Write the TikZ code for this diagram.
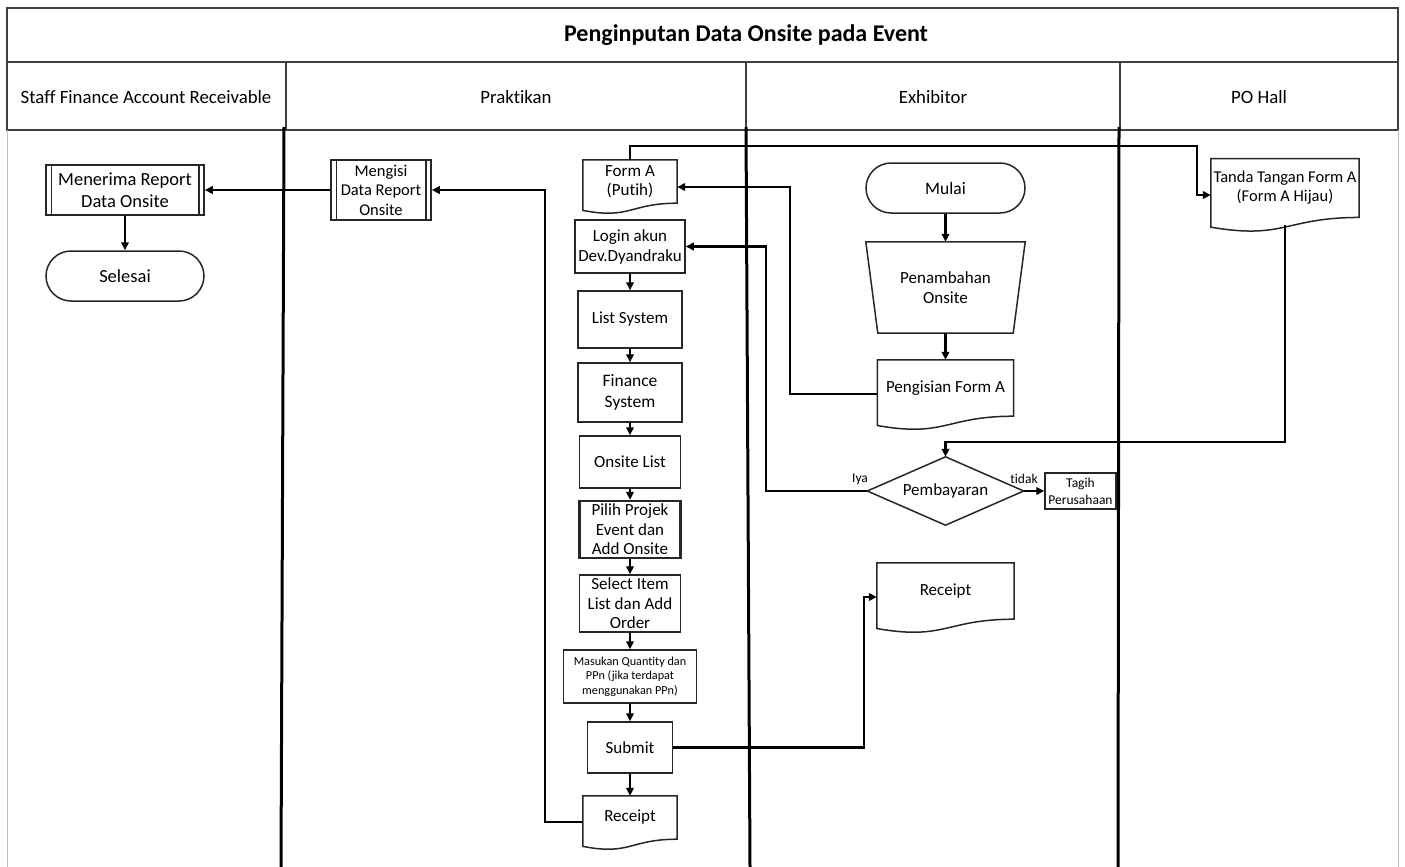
\documentclass[tikz,border=0pt]{standalone}
\usepackage{fontspec}
\setmainfont{Carlito}[Ligatures=NoCommon]
\usetikzlibrary{calc,arrows.meta}

% document symbol: straight top and sides, wavy bottom edge
\newcommand\docframe[1]{%
  \draw[shapeline] let \p1=(#1.north west), \p2=(#1.south east), \n1={\y1-\y2} in
    (\x1,\y1) -- (\x2,\y1) -- (\x2,\y2)
    .. controls ({(\x1+\x2)/2},\y2) and ({(\x1+\x2)/2},{\y2-0.38*\n1}) ..
    (\x1,{\y2-0.165*\n1}) -- cycle;}

\tikzset{
  every node/.style={inner sep=0pt, align=center, font=\fontsize{17}{20}\selectfont},
  shapeline/.style={draw=black!85, line width=1.5pt},
  box/.style={shapeline, fill=white},
  term/.style={box, rounded corners=25pt},
  textonly/.style={draw=none},
  conn/.style={draw=black, line width=2.2pt},
  arr/.style={conn, -{Triangle[length=8pt,width=7.5pt]}},
  lane/.style={draw=black, line width=3pt},
  hdrline/.style={draw=black!75, line width=1.8pt},
  faint/.style={draw=black!25, line width=1pt},
  hdr/.style={font=\fontsize{18.8}{22}\selectfont},
  small/.style={font=\fontsize{12.2}{14.5}\selectfont},
}

\begin{document}
\begin{tikzpicture}[x=1pt,y=-1pt]
\useasboundingbox (0,0) rectangle (1405,867);

% header rows
\draw[hdrline] (7,8) rectangle (1398,130);
\draw[hdrline] (7,62) -- (1398,62);
\draw[hdrline] (286,62) -- (286,130);
\draw[hdrline] (746,62) -- (746,130);
\draw[hdrline] (1120,62) -- (1120,130);
\node[font=\bfseries\fontsize{24}{28}\selectfont] (title) at (746,35) {Penginputan Data Onsite pada Event};
\node[hdr] (hstaff) at (146,97) {Staff Finance Account Receivable};
\node[hdr] (hprak) at (516,97) {Praktikan};
\node[hdr] (hexh) at (933,97) {Exhibitor};
\node[hdr] (hpo) at (1259,97) {PO Hall};

% lanes
\draw[faint] (7,130) -- (7,867);
\draw[faint] (1398,130) -- (1398,867);
\draw[lane] (284,127) -- (281,867);
\draw[lane] (746,127) -- (750,867);
\draw[lane] (1119,127) -- (1118,867);

% Staff Finance lane
\node[box, minimum width=158, minimum height=50, font=\fontsize{18.5}{22}\selectfont] (menerima) at (125,190) {Menerima Report\\Data Onsite};
\draw[shapeline] ([xshift=6pt]menerima.north west) -- ([xshift=6pt]menerima.south west);
\draw[shapeline] ([xshift=-6pt]menerima.north east) -- ([xshift=-6pt]menerima.south east);
\node[term, minimum width=158, minimum height=50, font=\fontsize{18.5}{22}\selectfont] (selesai) at (125,276) {Selesai};

% Praktikan lane
\node[box, minimum width=100, minimum height=60, font=\fontsize{16.5}{19.5}\selectfont] (mengisi) at (381,190) {Mengisi\\Data Report\\Onsite};
\draw[shapeline] ([xshift=6pt]mengisi.north west) -- ([xshift=6pt]mengisi.south west);
\draw[shapeline] ([xshift=-6pt]mengisi.north east) -- ([xshift=-6pt]mengisi.south east);

\node[textonly, minimum width=94, minimum height=43, font=\fontsize{17}{19}\selectfont] (formA) at (630,181.5) {Form A\\(Putih)};
\docframe{formA}
\node[box, minimum width=110, minimum height=53] (login) at (630,246.5) {Login akun\\Dev.Dyandraku};
\node[box, minimum width=104, minimum height=57] (listsys) at (630,319.5) {List System};
\node[box, minimum width=104, minimum height=59, font=\fontsize{17.5}{21}\selectfont] (finsys) at (630,392.5) {Finance\\System};
\node[box, minimum width=101, minimum height=52] (onsite) at (630,462) {Onsite List};
\node[box, line width=2.4pt, minimum width=101, minimum height=57, font=\fontsize{17}{19.5}\selectfont] (pilih) at (630,529.5) {Pilih Projek\\Event dan\\Add Onsite};
\node[box, minimum width=101, minimum height=57, font=\fontsize{17}{19.5}\selectfont] (select) at (630,603.5) {Select Item\\List dan Add\\Order};
\node[box, small, minimum width=133, minimum height=53] (masukan) at (630,676.5) {Masukan Quantity dan\\PPn (jika terdapat\\menggunakan PPn)};
\node[box, minimum width=85, minimum height=51] (submit) at (630,747.5) {Submit};
\node[textonly, minimum width=94, minimum height=43] (receipt) at (630,817.5) {Receipt};
\docframe{receipt}

% Exhibitor lane
\node[term, minimum width=159, minimum height=50, font=\fontsize{17.5}{20}\selectfont] (mulai) at (945.5,188) {Mulai};
\node[textonly, minimum width=159, minimum height=91] (penamb) at (945.5,287.5) {Penambahan\\Onsite};
\draw[shapeline] (penamb.north west) -- (penamb.north east) -- ([xshift=-12pt]penamb.south east) -- ([xshift=12pt]penamb.south west) -- cycle;
\node[textonly, minimum width=136, minimum height=56] (pengisian) at (945.5,388) {Pengisian Form A};
\docframe{pengisian}
\node[textonly, minimum width=156, minimum height=68] (pemb) at (945.5,491) {Pembayaran};
\draw[shapeline] (pemb.north) -- (pemb.east) -- (pemb.south) -- (pemb.west) -- cycle;
\node[box, minimum width=71, minimum height=36, font=\fontsize{13.5}{17}\selectfont] (tagih) at (1080.5,491) {Tagih\\Perusahaan};
\node[textonly, minimum width=137, minimum height=56] (receiptb) at (945.5,591) {Receipt};
\docframe{receiptb}
\node[font=\fontsize{13.5}{15}\selectfont] (iya) at (860,479) {Iya};
\node[font=\fontsize{13.5}{15}\selectfont] (tidak) at (1024,479) {tidak};

% PO Hall lane
\node[textonly, minimum width=148, minimum height=58.5, font=\fontsize{16.5}{19}\selectfont] (tanda) at (1285,188) {Tanda Tangan Form A\\(Form A Hijau)};
\docframe{tanda}

% connectors
\draw[arr] (mulai.south) -- (penamb.north);
\draw[arr] (penamb.south) -- (pengisian.north);
\draw[arr] ([yshift=-6pt]pengisian.west) -- ++(-87,0) |- ([yshift=-5.5pt]formA.east);
\draw[arr] (pemb.west) -- ++(-101,0) |- (login.east);
\draw[arr] ([yshift=-8pt]tanda.south) -- (tanda.south |- 0,442) -| (pemb.north);
\draw[arr] (pemb.east) -- (tagih.west);
\draw[arr] (formA.north) |- (1197,146) |- ([yshift=-7pt]tanda.west);

\draw[arr] (login.south) -- (listsys.north);
\draw[arr] (listsys.south) -- (finsys.north);
\draw[arr] (finsys.south) -- (onsite.north);
\draw[arr] (onsite.south) -- (pilih.north);
\draw[arr] (pilih.south) -- (select.north);
\draw[arr] (select.south) -- (masukan.north);
\draw[arr] (masukan.south) -- (submit.north);
\draw[arr] (submit.south) -- (receipt.north);
\draw[arr] (submit.east) -- ++(191,0) |- ([yshift=-6pt]receiptb.west);
\draw[arr] ([yshift=-4.5pt]receipt.west) -- ++(-38,0) |- (mengisi.east);
\draw[arr] (mengisi.west) -- (menerima.east);
\draw[arr] (menerima.south) -- (selesai.north);
\end{tikzpicture}
\end{document}
